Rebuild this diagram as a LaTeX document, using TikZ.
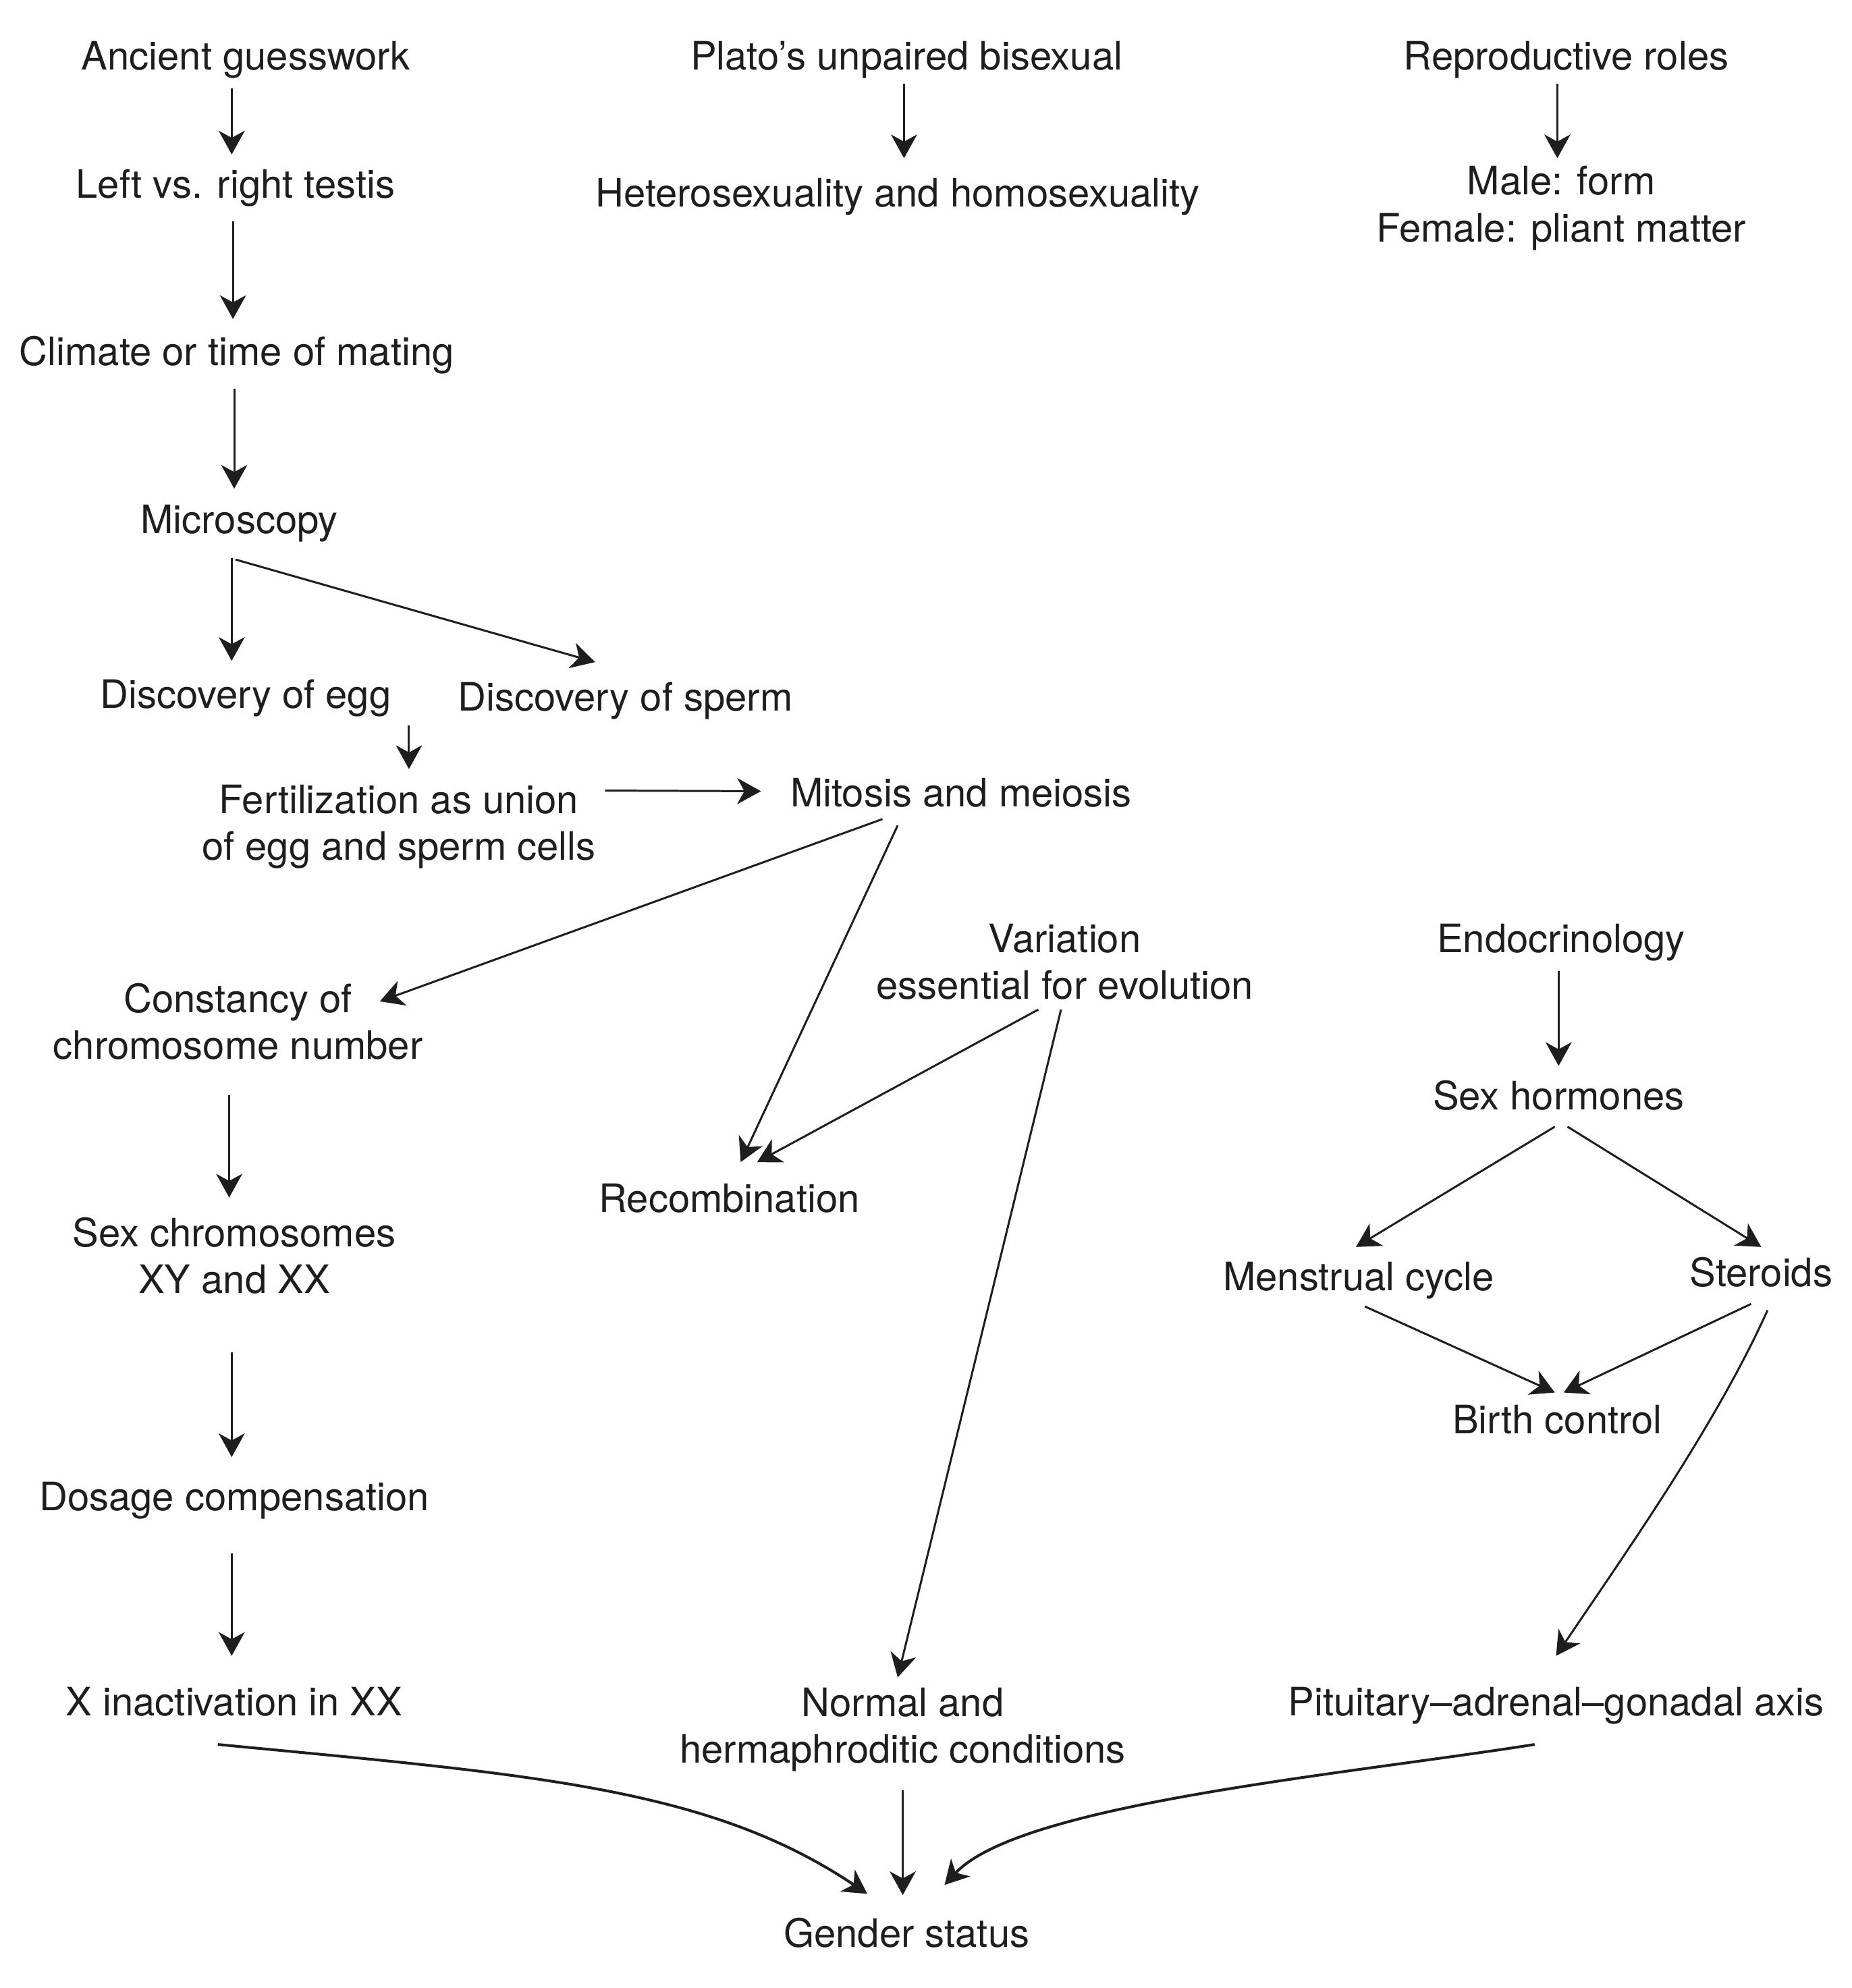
\documentclass[tikz,border=0pt]{standalone}
\usepackage{fontspec}
\setmainfont{TeX Gyre Heros}
\usetikzlibrary{arrows.meta}
\definecolor{ink}{HTML}{1E1E1E}
\begin{document}
\begin{tikzpicture}[x=0.01876cm,y=-0.01876cm,
  lbl/.style={inner sep=0pt, align=center, text=ink,
    font=\fontsize{16.5pt}{19.7pt}\selectfont},
  arr/.style={draw=ink, line width=0.85pt,
    -{Stealth[length=10pt,width=11pt,inset=3pt]}},
  carr/.style={arr, line width=1.15pt}]
\useasboundingbox[fill=white] (0,0) rectangle (1462.2,1570.4);
% left column
\node[lbl] (anc) at (194,48) {\strut Ancient guesswork};
\node[lbl] (lef) at (186,149) {\strut Left vs. right testis};
\node[lbl] (cli) at (187,281) {\strut Climate or time of mating};
\node[lbl] (mic) at (189,414) {\strut Microscopy};
\node[lbl] (egg) at (194,552) {\strut Discovery of egg};
\node[lbl] (spe) at (494,554) {\strut Discovery of sperm};
\node[lbl] (fer) at (315,653.5) {\strut Fertilization as union\\\strut of egg and sperm cells};
\node[lbl] (mit) at (759,630) {\strut Mitosis and meiosis};
\node[lbl] (con) at (188,811) {\strut Constancy of\\\strut chromosome number};
\node[lbl] (sxc) at (185,996) {\strut Sex chromosomes\\\strut XY and XX};
\node[lbl] (dos) at (185,1186) {\strut Dosage compensation};
\node[lbl] (xin) at (185,1348) {\strut X inactivation in XX};
% middle
\node[lbl] (pla) at (716,48) {\strut Plato’s unpaired bisexual};
\node[lbl] (het) at (709,156) {\strut Heterosexuality and homosexuality};
\node[lbl] (var) at (841,763.5) {\strut Variation\\\strut essential for evolution};
\node[lbl] (rec) at (576,950) {\strut Recombination};
\node[lbl] (nor) at (713,1367) {\strut Normal and\\\strut hermaphroditic conditions};
\node[lbl] (gen) at (716,1531) {\strut Gender status};
% right
\node[lbl] (rep) at (1237,48) {\strut Reproductive roles};
\node[lbl] (mal) at (1233,165) {\strut Male: form\\\strut Female: pliant matter};
\node[lbl] (endo) at (1233,745) {\strut Endocrinology};
\node[lbl] (sxh) at (1231,869) {\strut Sex hormones};
\node[lbl] (men) at (1073,1012) {\strut Menstrual cycle};
\node[lbl] (ste) at (1391,1009) {\strut Steroids};
\node[lbl] (bir) at (1230,1125) {\strut Birth control};
\node[lbl] (pit) at (1229,1348) {\strut Pituitary--adrenal--gonadal axis};
% connectors
\draw[arr] ([shift={(-11,22)}]anc.center) -- ([shift={(-3,-27)}]lef.center);
\draw[arr] ([shift={(-2,26)}]lef.center) -- ([shift={(-3,-29)}]cli.center);
\draw[arr] ([shift={(-2,26)}]cli.center) -- ([shift={(-4,-28)}]mic.center);
\draw[arr] ([shift={(-6,27)}]mic.center) -- ([shift={(-11,-30)}]egg.center);
\draw[arr] ([shift={(-3,28)}]mic.center) -- ([shift={(-24,-31)}]spe.center);
\draw[arr] ([shift={(129,21)}]egg.center) -- ([shift={(8,-46)}]fer.center);
\draw[arr] ([shift={(163,-29)}]fer.center) -- ([shift={(-158,-5)}]mit.center);
\draw[arr] ([shift={(-2,18)}]pla.center) -- ([shift={(5,-31)}]het.center);
\draw[arr] ([shift={(-7,18)}]rep.center) -- ([shift={(-3,-40)}]mal.center);
\draw[arr] ([shift={(-62,17)}]mit.center) -- ([shift={(112,-20)}]con.center);
\draw[arr] ([shift={(-50,22)}]mit.center) -- ([shift={(9,-32)}]rec.center);
\draw[arr] ([shift={(-21,34)}]var.center) -- ([shift={(22,-32)}]rec.center);
\draw[arr] ([shift={(-3,34)}]var.center) -- ([shift={(-4,-42)}]nor.center);
\draw[arr] ([shift={(-2,22)}]endo.center) -- ([shift={(0,-27)}]sxh.center);
\draw[arr] ([shift={(-3,21)}]sxh.center) -- ([shift={(-2,-27)}]men.center);
\draw[arr] ([shift={(7,21)}]sxh.center) -- ([shift={(0,-24)}]ste.center);
\draw[arr] ([shift={(5,20)}]men.center) -- ([shift={(-2,-25)}]bir.center);
\draw[arr] ([shift={(-8,21)}]ste.center) -- ([shift={(5,-25)}]bir.center);
\draw[arr] ([shift={(5,26)}]ste.center) .. controls (1355,1126) and (1285,1225) .. ([shift={(0,-40)}]pit.center);
\draw[arr] ([shift={(-7,54)}]con.center) -- ([shift={(-4,-50)}]sxc.center);
\draw[arr] ([shift={(-2,72)}]sxc.center) -- ([shift={(-2,-35)}]dos.center);
\draw[arr] ([shift={(-2,41)}]dos.center) -- ([shift={(-2,-40)}]xin.center);
\draw[carr] ([shift={(-13,30)}]xin.center) .. controls (422,1402) and (560,1412) .. ([shift={(-31,-35)}]gen.center);
\draw[arr] ([shift={(0,47)}]nor.center) -- ([shift={(-3,-34)}]gen.center);
\draw[carr] ([shift={(-17,30)}]pit.center) .. controls (1060,1402) and (805,1425) .. ([shift={(30,-42)}]gen.center);
\end{tikzpicture}
\end{document}
